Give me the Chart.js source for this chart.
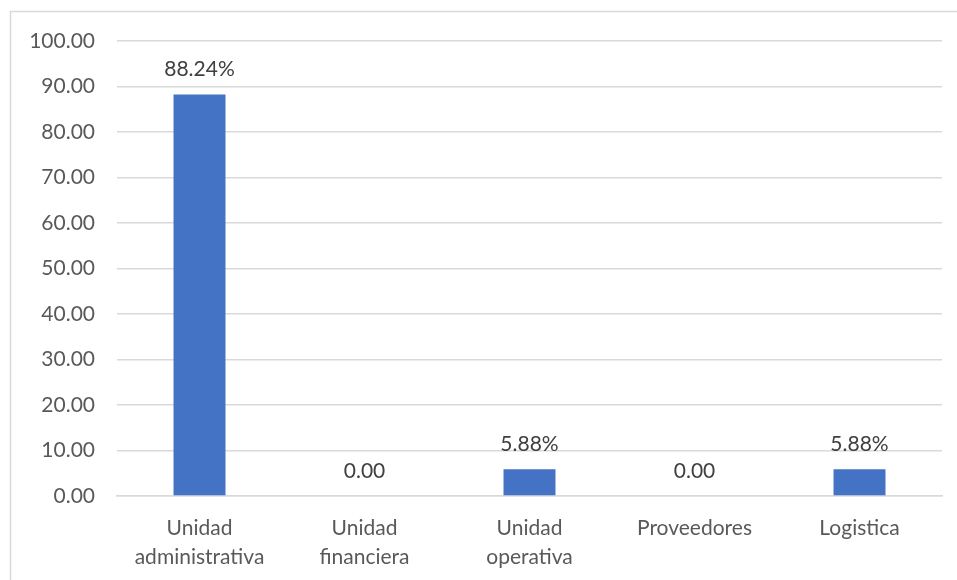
<!DOCTYPE html>
<html>
<head>
<meta charset="utf-8">
<script src="https://cdn.jsdelivr.net/npm/chart.js@4"></script>
<style>
  body { margin: 0; background: #fff; }
  #wrap { width: 957px; height: 580px; position: relative; }
</style>
</head>
<body>
<div id="wrap"><canvas id="myChart" width="957" height="580"></canvas></div>
<script>
'use strict';
let categories = [['Unidad', 'administrativa'], ['Unidad', 'financiera'], ['Unidad', 'operativa'], 'Proveedores', 'Logistica'];
let percentValues = [88.24, 0, 5.88, 0, 5.88];
let valueLabels = ['88.24%', '0.00', '5.88%', '0.00', '5.88%'];
let yTicks = [0, 10, 20, 30, 40, 50, 60, 70, 80, 90, 100];

let fontName = 'Lato, "Open Sans", sans-serif';

// frame round the chart, like the spreadsheet one
let framePlugin = {
    id: 'frame',
    beforeDraw(chart) {
        let ctx = chart.ctx;
        ctx.save();
        ctx.fillStyle = '#fff';
        ctx.fillRect(0, 0, chart.width, chart.height);
        ctx.strokeStyle = '#d9d9d9';
        ctx.lineWidth = 1.5;
        ctx.strokeRect(10.5, 11.5, chart.width + 20, chart.height + 20);
        ctx.restore();
    }
};

let labelPlugin = {
    id: 'valueLabels',
    afterDatasetsDraw(chart) {
        let ctx = chart.ctx;
        let meta = chart.getDatasetMeta(0);
        ctx.save();
        ctx.font = '21px ' + fontName;
        ctx.fillStyle = '#404040';
        ctx.textAlign = 'center';
        ctx.textBaseline = 'middle';
        meta.data.forEach(function (bar, i) {
            ctx.fillText(valueLabels[i], bar.x, bar.y - 25);
        });
        ctx.restore();
    }
};

let chartEl = document.getElementById('myChart').getContext('2d');
let myChart = new Chart(chartEl, {
    type: 'bar',
    data: {
        labels: categories,
        datasets: [{
            data: percentValues,
            backgroundColor: '#4472c4',
            borderWidth: 0,
            categoryPercentage: 1,
            barPercentage: 0.315
        }]
    },
    plugins: [framePlugin, labelPlugin],
    options: {
        responsive: false,
        animation: false,
        layout: { padding: { left: 0, right: 15, top: 41, bottom: 0 } },
        plugins: {
            legend: { display: false },
            tooltip: { enabled: false }
        },
        scales: {
            x: {
                grid: { display: false },
                border: { color: '#d9d9d9', width: 1.5 },
                ticks: {
                    color: '#595959',
                    font: { family: fontName, size: 21, lineHeight: 1.38 },
                    padding: 10,
                    maxRotation: 0,
                    autoSkip: false
                },
                afterFit(scale) { scale.height = 84; }
            },
            y: {
                min: 0,
                max: 100,
                afterBuildTicks(scale) {
                    scale.ticks = yTicks.map(v => ({ value: v }));
                },
                grid: { color: '#d9d9d9', lineWidth: 1.5, drawTicks: false },
                border: { display: false },
                ticks: {
                    color: '#595959',
                    font: { family: fontName, size: 21 },
                    padding: 22,
                    callback: v => Number(v).toFixed(2)
                },
                afterFit(scale) { scale.width = 117; }
            }
        }
    }
});
</script>
</body>
</html>
